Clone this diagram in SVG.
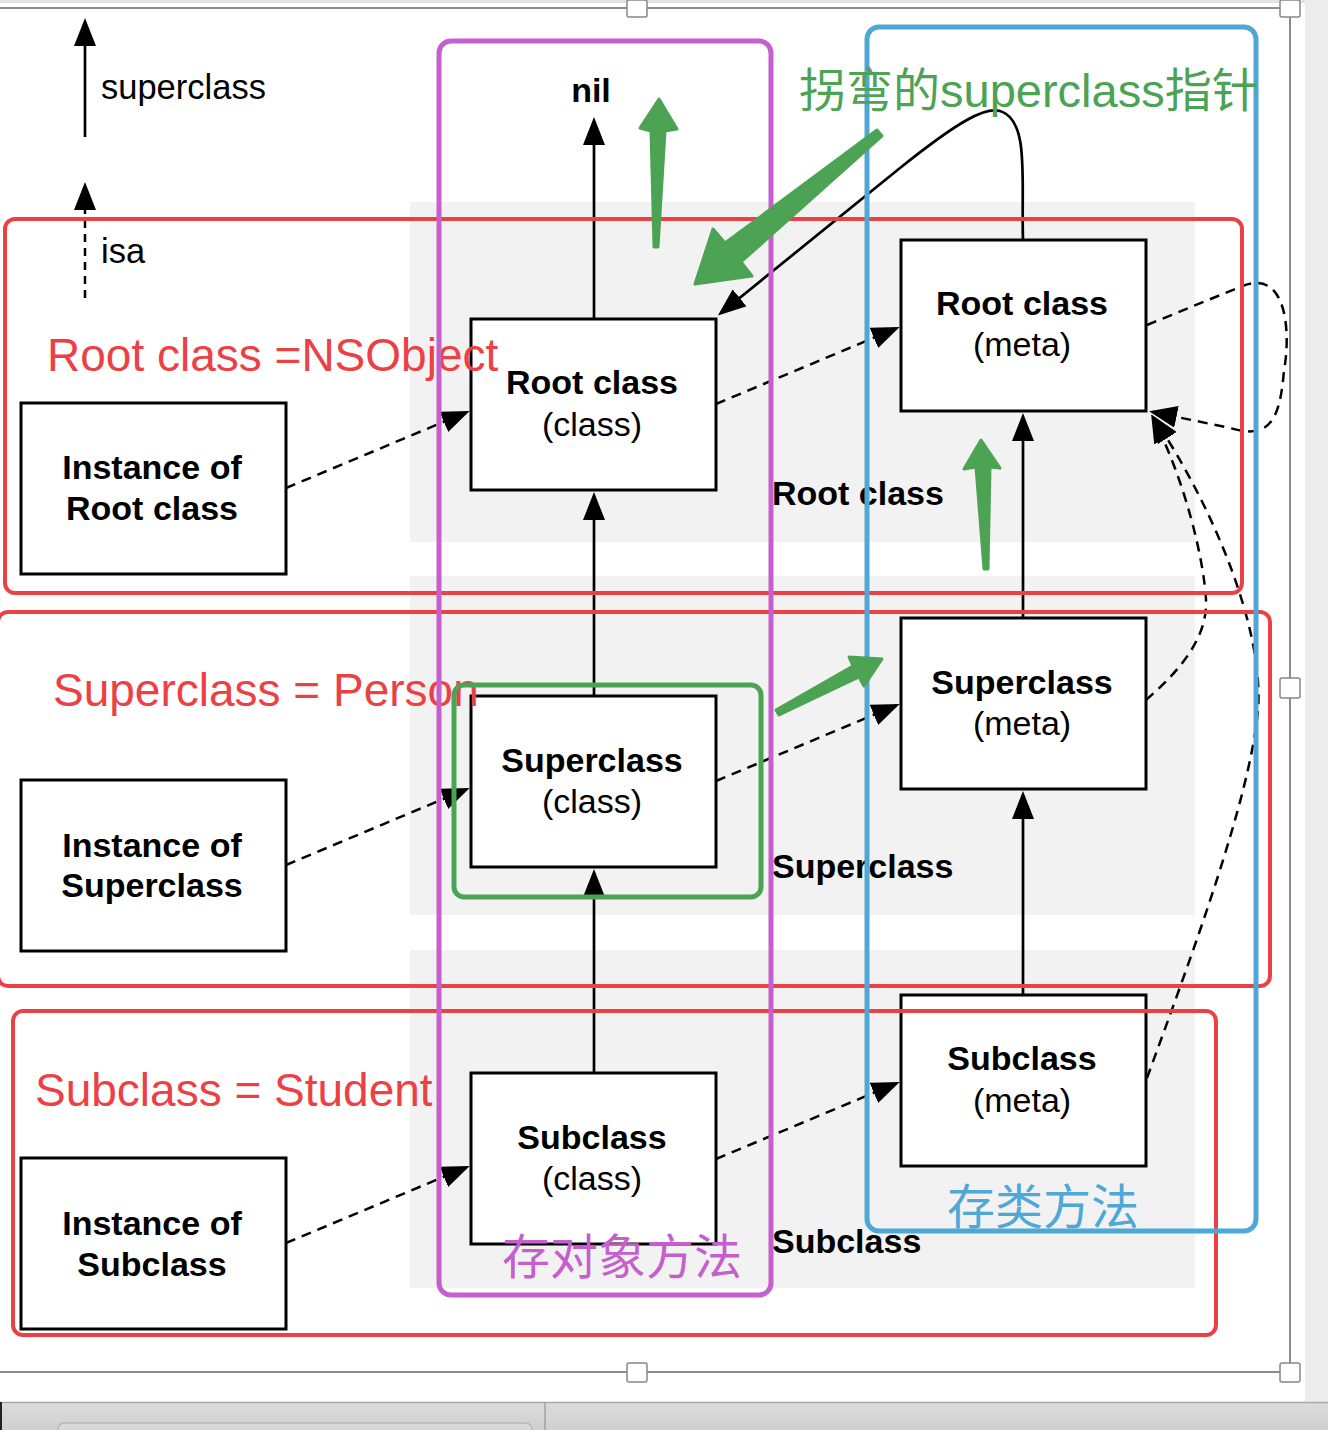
<svg xmlns="http://www.w3.org/2000/svg" width="1328" height="1430" viewBox="0 0 1328 1430">
<defs>
<marker id="ah" viewBox="0 0 28 22" markerWidth="28" markerHeight="22" refX="24" refY="11" orient="auto" markerUnits="userSpaceOnUse"><path d="M0,0 L28,11 L0,22 z" fill="#000"/></marker>
<linearGradient id="bar" x1="0" y1="0" x2="0" y2="1"><stop offset="0" stop-color="#dcdcdc"/><stop offset="1" stop-color="#cfcfcf"/></linearGradient>
</defs>
<style>
.box{fill:#fff;stroke:#000;stroke-width:3}
.b{font-family:"Liberation Sans",Arial,Helvetica,sans-serif;font-weight:bold;font-size:34px;fill:#000;text-anchor:middle}
.r{font-family:"Liberation Sans",Arial,Helvetica,sans-serif;font-size:34px;fill:#000;text-anchor:middle}
.lbl{font-family:"Liberation Sans",Arial,Helvetica,sans-serif;font-weight:bold;font-size:34px;fill:#000}
.leg{font-family:"Liberation Sans",Arial,Helvetica,sans-serif;font-size:34.5px;fill:#000}
.sup{fill:none;stroke:#000;stroke-width:2.7;marker-end:url(#ah)}
.isa{fill:none;stroke:#000;stroke-width:2.5;stroke-dasharray:10 7;marker-end:url(#ah)}
.panel{fill:#f2f2f2}
.red{fill:none;stroke:#ec4144;stroke-width:4}
.rt{font-family:"Liberation Sans",Arial,Helvetica,sans-serif;font-size:46px;fill:#ec4144}
.cjk{font-family:"Liberation Sans","Noto Sans CJK SC",sans-serif;font-size:47px}
.garrow{fill:#4ba353;stroke:#4ba353;stroke-width:3;stroke-linejoin:round}
.handle{fill:#fff;stroke:#888;stroke-width:1.5}
</style>
<rect width="1328" height="1430" fill="#fff"/>
<!-- window chrome -->
<rect x="1305" y="0" width="23" height="1402" fill="#ececec"/>
<rect x="0" y="0" width="1305" height="3" fill="#e2e2e2"/>
<rect x="0" y="1402" width="1328" height="28" fill="url(#bar)"/>
<line x1="0" y1="1402.5" x2="1328" y2="1402.5" stroke="#a8a8a8" stroke-width="1.5"/>
<line x1="1" y1="1402" x2="1" y2="1430" stroke="#222" stroke-width="2"/>
<line x1="545" y1="1402" x2="545" y2="1430" stroke="#a0a0a0" stroke-width="1.5"/>
<rect x="58" y="1423" width="474" height="20" rx="6" fill="#d8d8d8" stroke="#b8b8b8" stroke-width="1.5"/>
<g id="selection" fill="none" stroke="#666" stroke-width="1.5">
<line x1="0" y1="8" x2="1290" y2="8"/>
<line x1="1290" y1="8" x2="1290" y2="1372"/>
<line x1="0" y1="1372" x2="1290" y2="1372"/>
</g>
<rect class="handle" x="627" y="0" width="20" height="17" rx="2"/>
<rect class="handle" x="1280" y="0" width="20" height="17" rx="2"/>
<rect class="handle" x="1280" y="678" width="20" height="20" rx="2"/>
<rect class="handle" x="627" y="1363" width="20" height="19" rx="2"/>
<rect class="handle" x="1280" y="1363" width="20" height="19" rx="2"/>

<!-- row panels -->
<g id="panels">
<rect class="panel" x="410" y="202" width="785" height="340"/>
<rect class="panel" x="410" y="576" width="785" height="339"/>
<rect class="panel" x="410" y="950" width="785" height="338"/>
</g>

<!-- legend -->
<g id="legend">
<path class="sup" d="M85,137 V22"/>
<text class="leg" x="101" y="99">superclass</text>
<path class="isa" d="M85,298 V186" style="stroke-dasharray:8 6"/>
<text class="leg" x="101" y="263">isa</text>
</g>

<!-- nodes -->
<g id="nil"><text class="b" x="591" y="102">nil</text></g>
<g id="inst-root"><rect class="box" x="21" y="403" width="265" height="171"/><text class="b" x="152" y="479">Instance of</text><text class="b" x="152" y="520">Root class</text></g>
<g id="root-class"><rect class="box" x="471" y="319" width="245" height="171"/><text class="b" x="592" y="394">Root class</text><text class="r" x="592" y="436">(class)</text></g>
<g id="root-meta"><rect class="box" x="901" y="240" width="245" height="171"/><text class="b" x="1022" y="315">Root class</text><text class="r" x="1022" y="356">(meta)</text></g>
<g id="inst-super"><rect class="box" x="21" y="780" width="265" height="171"/><text class="b" x="152" y="857">Instance of</text><text class="b" x="152" y="897">Superclass</text></g>
<g id="super-class"><rect class="box" x="471" y="696" width="245" height="171"/><text class="b" x="592" y="772">Superclass</text><text class="r" x="592" y="813">(class)</text></g>
<g id="super-meta"><rect class="box" x="901" y="618" width="245" height="171"/><text class="b" x="1022" y="694">Superclass</text><text class="r" x="1022" y="735">(meta)</text></g>
<g id="inst-sub"><rect class="box" x="21" y="1158" width="265" height="171"/><text class="b" x="152" y="1235">Instance of</text><text class="b" x="152" y="1276">Subclass</text></g>
<g id="sub-class"><rect class="box" x="471" y="1073" width="245" height="171"/><text class="b" x="592" y="1149">Subclass</text><text class="r" x="592" y="1190">(class)</text></g>
<g id="sub-meta"><rect class="box" x="901" y="995" width="245" height="171"/><text class="b" x="1022" y="1070">Subclass</text><text class="r" x="1022" y="1112">(meta)</text></g>

<g id="row-labels">
<text class="lbl" x="772" y="505">Root class</text>
<text class="lbl" x="772" y="878">Superclass</text>
<text class="lbl" x="772" y="1253">Subclass</text>
</g>

<!-- connectors -->
<g id="connectors">
<path class="sup" d="M594,319 V121"/>
<path class="sup" d="M594,696 V496"/>
<path class="sup" d="M594,1073 V873"/>
<path class="sup" d="M1023,618 V417"/>
<path class="sup" d="M1023,995 V795"/>
<path class="sup" d="M1023,240 C1021,180 1030,120 1000,111 C985,107 960,120 900,168 L721,313"/>
<path class="isa" d="M286,488 L466,412.5"/>
<path class="isa" d="M716,404 L896,328.5"/>
<path class="isa" d="M286,865 L466,789.5"/>
<path class="isa" d="M716,781 L896,705.5"/>
<path class="isa" d="M286,1243 L466,1167.5"/>
<path class="isa" d="M716,1159 L896,1083.5"/>
<path class="isa" d="M1147,325 L1240,287 C1290,265 1290,340 1284,370 C1280,420 1270,440 1230,428 L1153,412"/>
<path class="isa" d="M1146,700 C1175,675 1208,640 1206,600 C1204,560 1185,480 1153,418"/>
<path class="isa" d="M1147,1078 C1190,960 1250,800 1258,710 C1264,630 1215,510 1154,418"/>
</g>

<!-- annotations -->
<g id="annotations">
<rect class="red" x="5" y="219" width="1237" height="374" rx="10"/>
<rect class="red" x="-2" y="612" width="1272" height="374" rx="10"/>
<rect class="red" x="13" y="1011" width="1203" height="324" rx="10"/>
<text class="rt" x="47" y="371">Root class =NSObject</text>
<text class="rt" x="53" y="706">Superclass = Person</text>
<text class="rt" x="35" y="1106">Subclass = Student</text>
<rect x="439" y="41" width="332" height="1254" rx="12" fill="none" stroke="#c55fce" stroke-width="5"/>
<rect x="867" y="27" width="389" height="1204" rx="12" fill="none" stroke="#4fa7d6" stroke-width="5"/>
<rect x="454" y="685" width="307" height="212" rx="10" fill="none" stroke="#4ba353" stroke-width="5"/>
<text class="cjk" x="502" y="1274" fill="#c55fce" style="font-size:48px">存对象方法</text>
<text class="cjk" x="947" y="1224" fill="#4fa7d6" style="font-size:48px">存类方法</text>
<text class="cjk" x="799" y="107" fill="#4ba353">拐弯的superclass指针</text>
<polygon class="garrow" points="654,247 658,247 665,131 677,129 659,99 640,128 651,131"/>
<polygon class="garrow" points="877,130 725,243 713,229 695,284 752,276 741,262 882,136"/>
<polygon class="garrow" points="984,569 988,569 990,467 1000,468 981,440 964,469 976,467"/>
<polygon class="garrow" points="776,710 853,666 849,657 882,659 864,686 859,677 779,715"/>
</g>
</svg>
